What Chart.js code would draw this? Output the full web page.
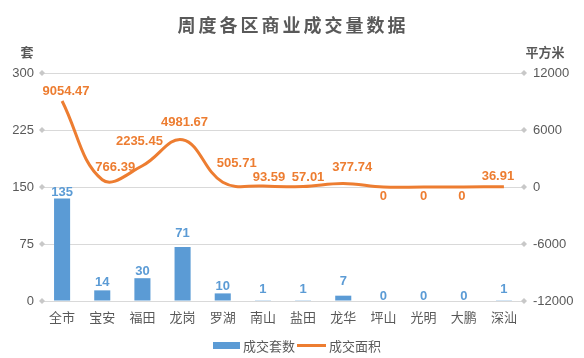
<!DOCTYPE html>
<html>
<head>
<meta charset="utf-8">
<script src="https://cdn.jsdelivr.net/npm/chart.js@4/dist/chart.umd.min.js"></script>
<style>
  html, body { margin: 0; padding: 0; background: #ffffff; }
  #wrap { width: 584px; height: 358px; position: relative; }
</style>
</head>
<body>
<div id="wrap"><canvas id="c" width="584" height="358"></canvas></div>
<script>
// ---- data ----
const categories = ['全市','宝安','福田','龙岗','罗湖','南山','盐田','龙华','坪山','光明','大鹏','深汕'];
const units = [135, 14, 30, 71, 10, 1, 1, 7, 0, 0, 0, 1];
const areas = [9054.47, 766.39, 2235.45, 4981.67, 505.71, 93.59, 57.01, 377.74, 0, 0, 0, 36.91];
const leftTicks = [0, 75, 150, 225, 300];
const rightTicks = [-12000, -6000, 0, 6000, 12000];
const titleText = '周度各区商业成交量数据';
const leftUnit = '套';
const rightUnit = '平方米';
const seriesNames = ['成交套数', '成交面积'];

// ---- styles ----
const BLUE = '#5B9BD5';
const ORANGE = '#ED7D31';
const TXT = '#595959';
const GRID = '#D9D9D9';
const CJK = '"Noto Sans CJK SC", "Liberation Sans", sans-serif';
const NUM = '"Liberation Sans", "Noto Sans CJK SC", sans-serif';
// label nudges (pixels, relative to each mark)
const areaLabelNudge = [[4,-10],[13,-12],[-3,-24],[2,-17],[14,-19],[6,-9],[5,-9],[9,-16],[0,9],[0,9],[-2,9],[-6,-10]];
const unitLabelLift = [-5.5,-7.5,-7,-14,-6.5,-11,-11,-14,-5,-5,-5,-11];

const decor = {
  id: 'decor',
  afterDatasetsDraw(chart) {
    const ctx = chart.ctx;
    const ca = chart.chartArea;
    const yL = chart.scales.y, yR = chart.scales.y1;
    ctx.save();
    // diamonds at tick ends
    ctx.fillStyle = '#C8C8C8';
    const dia = (x, y) => {
      ctx.beginPath();
      ctx.moveTo(x, y - 3); ctx.lineTo(x + 3, y); ctx.lineTo(x, y + 3); ctx.lineTo(x - 3, y);
      ctx.closePath(); ctx.fill();
    };
    leftTicks.forEach(v => dia(ca.left, yL.getPixelForValue(v)));
    rightTicks.forEach(v => dia(ca.right, yR.getPixelForValue(v)));

    // bar labels
    const barMeta = chart.getDatasetMeta(1);
    ctx.font = 'bold 13px ' + NUM;
    ctx.textAlign = 'center';
    ctx.textBaseline = 'middle';
    ctx.fillStyle = BLUE;
    barMeta.data.forEach((el, i) => {
      ctx.fillText(String(units[i]), el.x, el.y + unitLabelLift[i]);
    });
    // line labels
    const lineMeta = chart.getDatasetMeta(0);
    ctx.fillStyle = ORANGE;
    lineMeta.data.forEach((el, i) => {
      const n = areaLabelNudge[i];
      ctx.fillText(String(areas[i]), el.x + n[0], el.y + n[1]);
    });
    ctx.restore();
  },
  afterDraw(chart) {
    const ctx = chart.ctx;
    ctx.save();
    // title
    ctx.fillStyle = TXT;
    ctx.font = 'bold 18px ' + CJK;
    ctx.textBaseline = 'middle';
    ctx.textAlign = 'center';
    try { ctx.letterSpacing = '3px'; } catch (e) {}
    ctx.fillText(titleText, 293, 25);
    try { ctx.letterSpacing = '0px'; } catch (e) {}
    // unit labels
    ctx.font = 'bold 13px ' + CJK;
    ctx.fillText(leftUnit, 27, 52);
    ctx.fillText(rightUnit, 545, 52);
    // legend
    ctx.fillStyle = BLUE;
    ctx.fillRect(213, 342, 27, 7);
    ctx.font = '13px ' + CJK;
    ctx.fillStyle = TXT;
    ctx.textAlign = 'left';
    ctx.fillText(seriesNames[0], 243, 346);
    ctx.strokeStyle = ORANGE;
    ctx.lineWidth = 3;
    ctx.beginPath(); ctx.moveTo(297, 345.5); ctx.lineTo(326, 345.5); ctx.stroke();
    ctx.fillText(seriesNames[1], 329, 346);
    ctx.restore();
  }
};

new Chart(document.getElementById('c'), {
  data: {
    labels: categories,
    datasets: [
      {
        type: 'line', label: seriesNames[1], data: areas, yAxisID: 'y1',
        borderColor: ORANGE, borderWidth: 3, tension: 0.4, pointRadius: 0,
        fill: false, order: 0, cubicInterpolationMode: 'default'
      },
      {
        type: 'bar', label: seriesNames[0], data: units, yAxisID: 'y',
        backgroundColor: BLUE, barPercentage: 0.4, categoryPercentage: 1.0, order: 1
      }
    ]
  },
  options: {
    responsive: false,
    animation: false,
    layout: { padding: { top: 73, left: 0, right: 0, bottom: 0 } },
    plugins: { legend: { display: false }, title: { display: false }, tooltip: { enabled: false } },
    scales: {
      x: {
        grid: { display: false, drawTicks: false },
        border: { display: false },
        ticks: { color: TXT, font: { family: CJK, size: 13 }, padding: 8, maxRotation: 0 },
        afterFit(s) { s.height = 57; }
      },
      y: {
        position: 'left', min: 0, max: 300,
        afterBuildTicks(s) { s.ticks = leftTicks.map(v => ({ value: v })); },
        grid: { color: GRID, drawTicks: false },
        border: { display: false },
        ticks: { color: TXT, font: { family: NUM, size: 13 }, padding: 8, callback: v => String(v) },
        afterFit(s) { s.width = 42; }
      },
      y1: {
        position: 'right', min: -12000, max: 12000,
        afterBuildTicks(s) { s.ticks = rightTicks.map(v => ({ value: v })); },
        grid: { drawOnChartArea: false, drawTicks: false },
        border: { display: false },
        ticks: { color: TXT, font: { family: NUM, size: 13 }, padding: 9, callback: v => String(v) },
        afterFit(s) { s.width = 60; }
      }
    }
  },
  plugins: [decor]
});
</script>
</body>
</html>
